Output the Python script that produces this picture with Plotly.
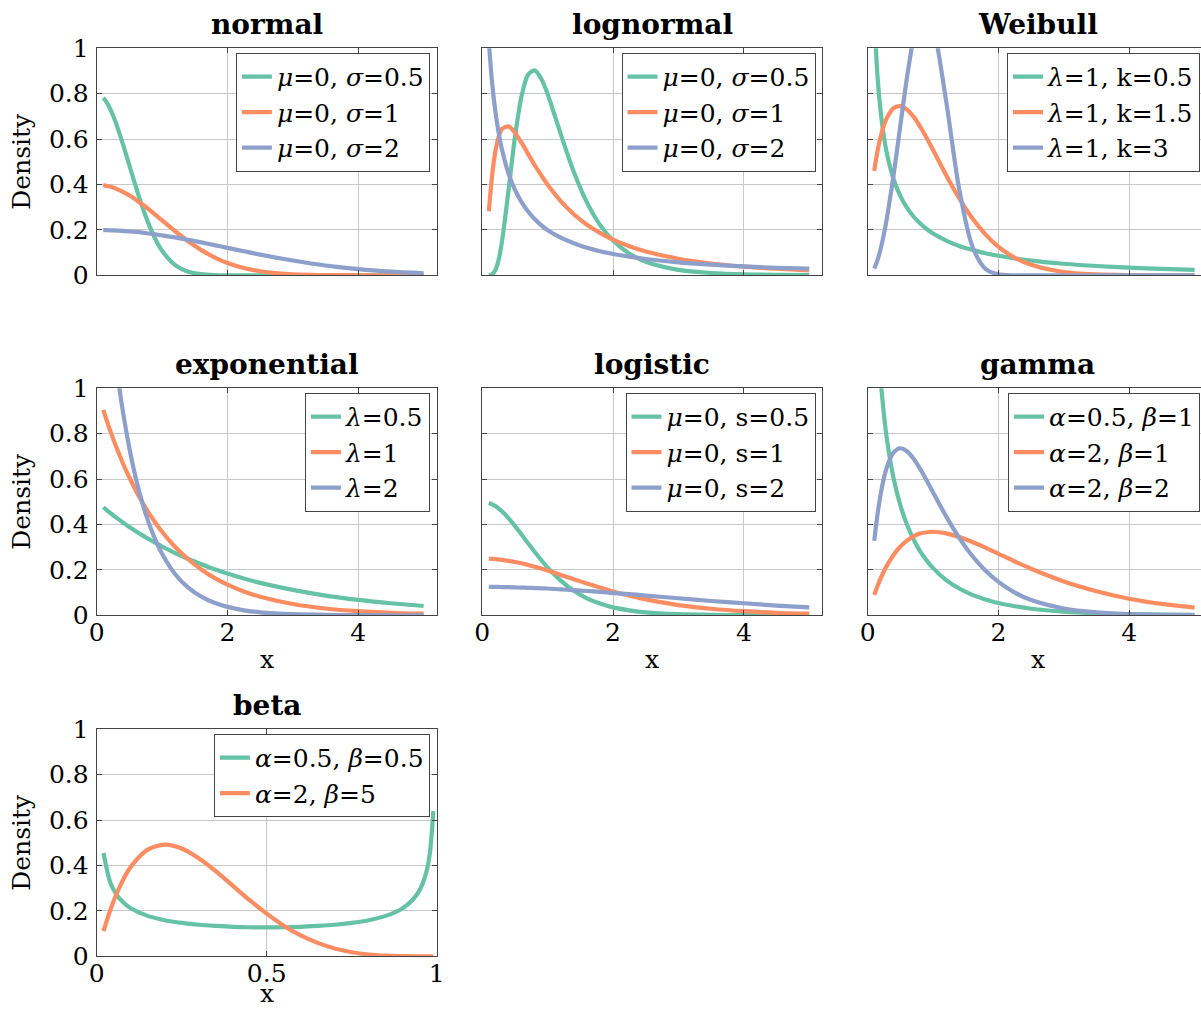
import plotly.graph_objects as go

# ---------------- data ----------------
X = [0.1, 0.15, 0.2, 0.25, 0.3, 0.4, 0.5, 0.6, 0.7, 0.8, 0.9, 1.0, 1.2, 1.4,
     1.6, 1.8, 2.0, 2.25, 2.5, 3.0, 3.5, 4.0, 4.5, 5.0]

normal_s05 = [0.782, 0.763, 0.737, 0.704, 0.666, 0.579, 0.484, 0.388, 0.299, 0.222, 0.158, 0.108,
              0.045, 0.016, 0.005, 0.001, 0.000, 0.0, 0.0, 0.0, 0.0, 0.0, 0.0, 0.0]
normal_s1 = [0.397, 0.394, 0.391, 0.387, 0.381, 0.368, 0.352, 0.333, 0.312, 0.290, 0.266, 0.242,
             0.194, 0.150, 0.111, 0.079, 0.054, 0.032, 0.018, 0.004, 0.001, 0.000, 0.000, 0.000]
normal_s2 = [0.199, 0.199, 0.198, 0.198, 0.197, 0.196, 0.193, 0.191, 0.188, 0.184, 0.180, 0.176,
             0.167, 0.156, 0.145, 0.133, 0.121, 0.106, 0.091, 0.065, 0.043, 0.027, 0.016, 0.009]

logn_s05 = [0.000, 0.004, 0.023, 0.068, 0.147, 0.372, 0.610, 0.789, 0.884, 0.903, 0.867, 0.798,
            0.622, 0.455, 0.321, 0.222, 0.153, 0.095, 0.060, 0.024, 0.010, 0.004, 0.002, 0.001]
logn_s1 = [0.282, 0.440, 0.546, 0.610, 0.644, 0.656, 0.628, 0.584, 0.535, 0.486, 0.441, 0.399,
           0.327, 0.269, 0.223, 0.187, 0.157, 0.128, 0.105, 0.073, 0.052, 0.038, 0.029, 0.022]
logn_s2 = [1.028, 0.848, 0.722, 0.628, 0.555, 0.449, 0.376, 0.322, 0.281, 0.248, 0.221, 0.199,
           0.166, 0.141, 0.121, 0.106, 0.094, 0.082, 0.072, 0.057, 0.047, 0.039, 0.033, 0.029]

weib_k05 = [1.153, 0.877, 0.715, 0.607, 0.528, 0.420, 0.349, 0.298, 0.259, 0.229, 0.204, 0.184,
            0.153, 0.129, 0.112, 0.097, 0.086, 0.074, 0.065, 0.051, 0.041, 0.034, 0.028, 0.024]
weib_k15 = [0.460, 0.548, 0.613, 0.662, 0.697, 0.737, 0.745, 0.730, 0.699, 0.656, 0.606, 0.552,
            0.441, 0.339, 0.251, 0.180, 0.125, 0.077, 0.046, 0.014, 0.004, 0.001, 0.000, 0.000]
weib_k3 = [0.030, 0.067, 0.119, 0.185, 0.263, 0.450, 0.662, 0.870, 1.043, 1.151, 1.172, 1.104,
           0.767, 0.378, 0.128, 0.029, 0.004, 0.000, 0.0, 0.0, 0.0, 0.0, 0.0, 0.0]

expo_l05 = [0.476, 0.464, 0.452, 0.441, 0.430, 0.409, 0.389, 0.370, 0.352, 0.335, 0.319, 0.303,
            0.274, 0.248, 0.225, 0.203, 0.184, 0.162, 0.143, 0.112, 0.087, 0.068, 0.053, 0.041]
expo_l1 = [0.905, 0.861, 0.819, 0.779, 0.741, 0.670, 0.607, 0.549, 0.497, 0.449, 0.407, 0.368,
           0.301, 0.247, 0.202, 0.165, 0.135, 0.105, 0.082, 0.050, 0.030, 0.018, 0.011, 0.007]
expo_l2 = [1.637, 1.482, 1.341, 1.213, 1.098, 0.899, 0.736, 0.602, 0.493, 0.404, 0.331, 0.271,
           0.181, 0.122, 0.082, 0.055, 0.037, 0.022, 0.013, 0.005, 0.002, 0.001, 0.000, 0.000]

logi_s05 = [0.495, 0.489, 0.481, 0.470, 0.458, 0.428, 0.393, 0.356, 0.317, 0.280, 0.244, 0.210,
            0.153, 0.108, 0.075, 0.052, 0.035, 0.022, 0.013, 0.005, 0.002, 0.001, 0.000, 0.000]
logi_s1 = [0.249, 0.249, 0.248, 0.246, 0.244, 0.240, 0.235, 0.229, 0.222, 0.214, 0.206, 0.197,
           0.178, 0.159, 0.140, 0.122, 0.105, 0.086, 0.070, 0.045, 0.029, 0.018, 0.011, 0.007]
logi_s2 = [0.125, 0.125, 0.125, 0.125, 0.124, 0.124, 0.123, 0.122, 0.121, 0.120, 0.119, 0.118,
           0.114, 0.111, 0.107, 0.103, 0.098, 0.093, 0.087, 0.075, 0.063, 0.053, 0.043, 0.035]

gamma_a05b1 = [1.614, 1.254, 1.033, 0.879, 0.763, 0.598, 0.484, 0.400, 0.335, 0.283, 0.242, 0.208,
               0.155, 0.118, 0.090, 0.070, 0.054, 0.040, 0.029, 0.016, 0.009, 0.005, 0.003, 0.002]
gamma_a2b1 = [0.090, 0.129, 0.164, 0.195, 0.222, 0.268, 0.303, 0.329, 0.348, 0.360, 0.366, 0.368,
              0.361, 0.345, 0.323, 0.298, 0.271, 0.237, 0.205, 0.149, 0.106, 0.073, 0.050, 0.034]
gamma_a2b2 = [0.328, 0.445, 0.536, 0.607, 0.659, 0.719, 0.736, 0.723, 0.691, 0.646, 0.595, 0.541,
              0.436, 0.341, 0.261, 0.197, 0.147, 0.100, 0.067, 0.030, 0.013, 0.005, 0.002, 0.001]

XB = [0.02, 0.04, 0.06, 0.08, 0.1, 0.15, 0.2, 0.25, 0.3, 0.35, 0.4, 0.45, 0.5, 0.55, 0.6, 0.65,
      0.7, 0.75, 0.8, 0.85, 0.9, 0.93, 0.95, 0.97, 0.98, 0.99]
beta_a05b05 = [0.455, 0.325, 0.268, 0.235, 0.212, 0.178, 0.159, 0.147, 0.139, 0.134, 0.130, 0.128,
               0.127, 0.128, 0.130, 0.134, 0.139, 0.147, 0.159, 0.178, 0.212, 0.250, 0.292, 0.373,
               0.455, 0.640]
beta_a2b5 = [0.111, 0.204, 0.281, 0.344, 0.394, 0.470, 0.492, 0.475, 0.432, 0.375, 0.311, 0.247,
             0.188, 0.135, 0.092, 0.059, 0.034, 0.018, 0.008, 0.003, 0.001, 0.000, 0.000, 0.000,
             0.000, 0.000]

Y_TICKS = [0, 0.2, 0.4, 0.6, 0.8, 1]
X_TICKS = [0, 2, 4]
XB_TICKS = [0, 0.5, 1]

panels = [
    dict(title="normal", row=0, col=0, x=X, xticks=X_TICKS, xmax=5.2, series=[
        (normal_s05, "<i>μ</i>=0, <i>σ</i>=0.5"),
        (normal_s1, "<i>μ</i>=0, <i>σ</i>=1"),
        (normal_s2, "<i>μ</i>=0, <i>σ</i>=2")]),
    dict(title="lognormal", row=0, col=1, x=X, xticks=X_TICKS, xmax=5.2, series=[
        (logn_s05, "<i>μ</i>=0, <i>σ</i>=0.5"),
        (logn_s1, "<i>μ</i>=0, <i>σ</i>=1"),
        (logn_s2, "<i>μ</i>=0, <i>σ</i>=2")]),
    dict(title="Weibull", row=0, col=2, x=X, xticks=X_TICKS, xmax=5.2, series=[
        (weib_k05, "<i>λ</i>=1, k=0.5"),
        (weib_k15, "<i>λ</i>=1, k=1.5"),
        (weib_k3, "<i>λ</i>=1, k=3")]),
    dict(title="exponential", row=1, col=0, x=X, xticks=X_TICKS, xmax=5.2, series=[
        (expo_l05, "<i>λ</i>=0.5"),
        (expo_l1, "<i>λ</i>=1"),
        (expo_l2, "<i>λ</i>=2")]),
    dict(title="logistic", row=1, col=1, x=X, xticks=X_TICKS, xmax=5.2, series=[
        (logi_s05, "<i>μ</i>=0, s=0.5"),
        (logi_s1, "<i>μ</i>=0, s=1"),
        (logi_s2, "<i>μ</i>=0, s=2")]),
    dict(title="gamma", row=1, col=2, x=X, xticks=X_TICKS, xmax=5.2, series=[
        (gamma_a05b1, "<i>α</i>=0.5, <i>β</i>=1"),
        (gamma_a2b1, "<i>α</i>=2, <i>β</i>=1"),
        (gamma_a2b2, "<i>α</i>=2, <i>β</i>=2")]),
    dict(title="beta", row=2, col=0, x=XB, xticks=XB_TICKS, xmax=1.0, series=[
        (beta_a05b05, "<i>α</i>=0.5, <i>β</i>=0.5"),
        (beta_a2b5, "<i>α</i>=2, <i>β</i>=5")]),
]

# ---------------- layout / style ----------------
W, H = 1201, 1010
COL_L = [96.7, 482.3, 867.7]
ROW_T = [48.3, 388.3, 729.3]
PW, PH = 340.0, 227.0
COLORS = ["#66c2a5", "#fc8d62", "#8da0cb"]
FONT = "DejaVu Serif"
AX = "#444444"
GRID = "#c8c8c8"
TICK_FS = 25
LEG_FS = 25
TITLE_FS = 28

fig = go.Figure()
annotations = []
layout = dict(width=W, height=H, margin=dict(l=0, r=0, t=0, b=0, autoexpand=False),
              paper_bgcolor="white", plot_bgcolor="white",
              font=dict(family=FONT, size=TICK_FS, color="black"),
              showlegend=True)

for i, p in enumerate(panels, start=1):
    l = COL_L[p["col"]]
    t = ROW_T[p["row"]]
    r = min(l + PW, W)
    xmax = p["xmax"] * (r - l) / PW
    xs = "" if i == 1 else str(i)
    leg = "legend" if i == 1 else f"legend{i}"
    for k, (ys, name) in enumerate(p["series"]):
        fig.add_trace(go.Scatter(
            x=p["x"], y=ys, mode="lines", name=name,
            line=dict(color=COLORS[k], width=4.2, shape="spline", smoothing=0.8),
            xaxis="x" + xs, yaxis="y" + xs, legend=leg, hoverinfo="skip"))
    show_x_labels = p["row"] >= 1
    show_y_labels = p["col"] == 0
    clipped = (l + PW) > W
    layout["xaxis" + xs] = dict(
        domain=[l / W, r / W], range=[0, xmax], anchor="y" + xs, automargin=False,
        tickvals=p["xticks"], showticklabels=show_x_labels,
        ticks="inside", ticklen=5, tickwidth=1, tickcolor=AX,
        showline=True, linecolor=AX, linewidth=1, mirror="ticks",
        showgrid=True, gridcolor=GRID, gridwidth=1, zeroline=False,
        ticklabelstandoff=-5,
        tickfont=dict(family=FONT, size=TICK_FS, color="black"))
    layout["yaxis" + xs] = dict(
        domain=[1 - (t + PH) / H, 1 - t / H], range=[0, 1], anchor="x" + xs, automargin=False,
        tickvals=Y_TICKS, showticklabels=show_y_labels,
        ticks="inside", ticklen=5, tickwidth=1, tickcolor=AX,
        showline=True, linecolor=AX, linewidth=1,
        mirror=False if clipped else "ticks",
        showgrid=True, gridcolor=GRID, gridwidth=1, zeroline=False,
        ticklabelstandoff=2,
        tickfont=dict(family=FONT, size=TICK_FS, color="black"))
    layout[leg] = dict(
        x=min(l + PW * 0.98, W - 1) / W, y=1 - (t + PH * 0.02) / H,
        xanchor="right", yanchor="top", bgcolor="white",
        bordercolor=AX, borderwidth=1,
        font=dict(family=FONT, size=LEG_FS, color="black"))
    annotations.append(dict(
        text="<b>%s</b>" % p["title"], xref="paper", yref="paper",
        x=(l + PW / 2) / W, y=1 - (t - 24) / H, xanchor="center", yanchor="middle",
        showarrow=False, font=dict(family=FONT, size=TITLE_FS, color="black")))
    if show_y_labels:
        annotations.append(dict(
            text="Density", xref="paper", yref="paper", textangle=-90,
            x=22 / W, y=1 - (t + PH / 2) / H, xanchor="center", yanchor="middle",
            showarrow=False, font=dict(family=FONT, size=TICK_FS, color="black")))
    if show_x_labels:
        if p["row"] == 2:
            annotations.append(dict(
                text="x", xref="paper", yref="paper",
                x=(l + PW / 2) / W, y=0, xanchor="center", yanchor="bottom",
                showarrow=False, font=dict(family=FONT, size=TICK_FS, color="black")))
        else:
            annotations.append(dict(
                text="x", xref="paper", yref="paper",
                x=(l + PW / 2) / W, y=1 - (t + PH + 44) / H, xanchor="center", yanchor="middle",
                showarrow=False, font=dict(family=FONT, size=TICK_FS, color="black")))

layout["annotations"] = annotations
fig.update_layout(**layout)
fig.write_html("out.html")
